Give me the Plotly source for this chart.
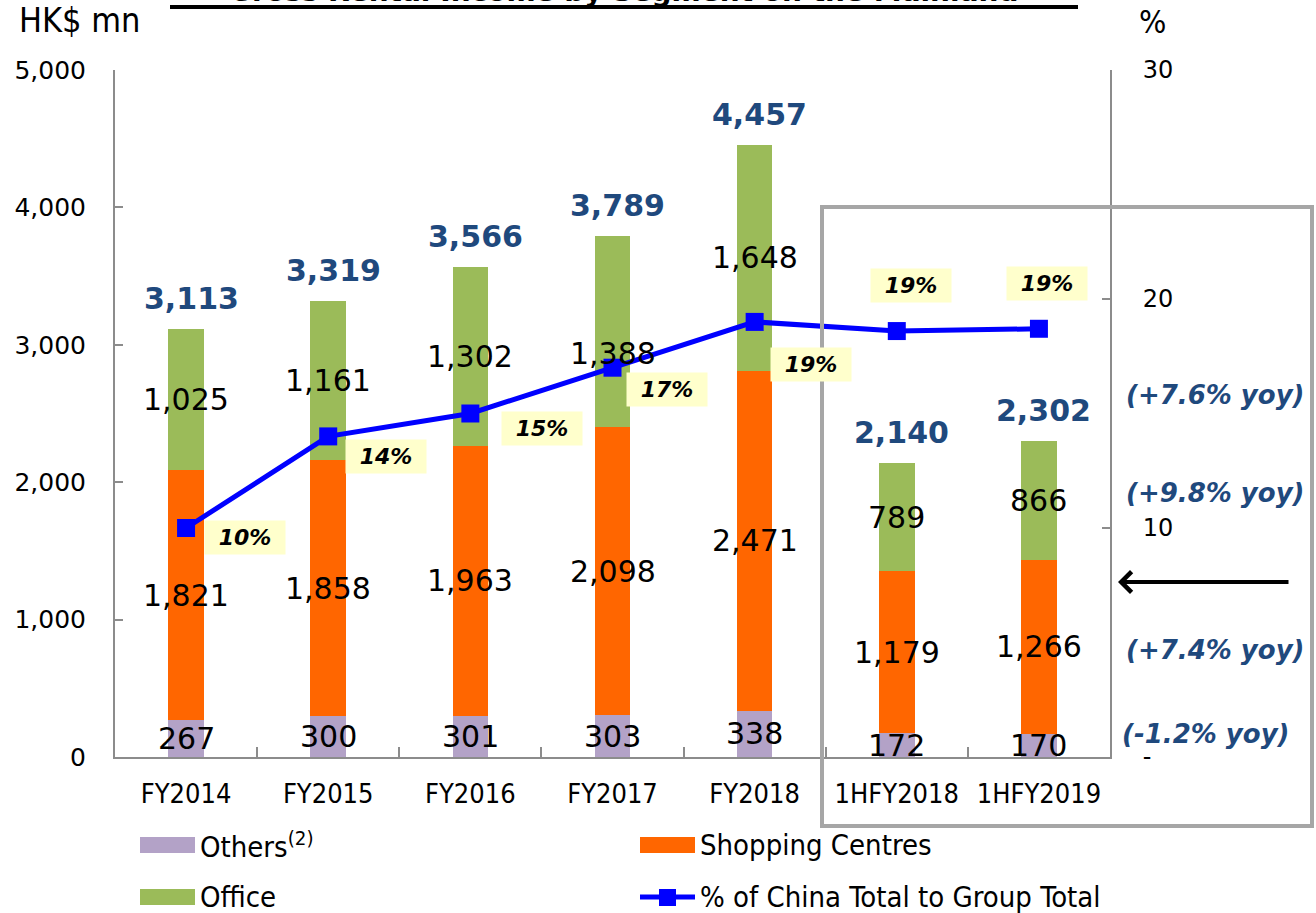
import plotly.graph_objects as go

# ---------------- data ----------------
categories = ["FY2014", "FY2015", "FY2016", "FY2017", "FY2018", "1HFY2018", "1HFY2019"]
others = [267, 300, 301, 303, 338, 172, 170]
shopping = [1821, 1858, 1963, 2098, 2471, 1179, 1266]
office = [1025, 1161, 1302, 1388, 1648, 789, 866]
totals = [3113, 3319, 3566, 3789, 4457, 2140, 2302]
pct_china = [10, 14, 15, 17, 19, 18.6, 18.7]
pct_labels = ["10%", "14%", "15%", "17%", "19%", "19%", "19%"]
yoy_labels = ["(+7.6% yoy)", "(+9.8% yoy)", "(+7.4% yoy)", "(-1.2% yoy)"]
y_ticks = [0, 1000, 2000, 3000, 4000, 5000]
y2_ticks = [0, 10, 20, 30]
y2_ticktext = ["-", "10", "20", "30"]

# ---------------- styling ----------------
W, H = 1316, 913
L, R, T, B = 115, 1110, 70, 757   # plot area in pixels
C_OTH, C_SHOP, C_OFF = "#B3A2C7", "#FF6600", "#9BBB59"
C_LINE = "#0000FF"
C_NAVY = "#1F497D"
GRAY = "#8C8C8C"
FONT = "DejaVu Sans, Verdana, sans-serif"
FONT_C = "DejaVu Sans Condensed, Liberation Sans Narrow, DejaVu Sans, sans-serif"


def px(x):
    return (x - L) / (R - L)


def py(y):
    return (B - y) / (B - T)


fig = go.Figure()
for name, vals, col in [("Others", others, C_OTH), ("Shopping Centres", shopping, C_SHOP),
                        ("Office", office, C_OFF)]:
    fig.add_trace(go.Bar(x=categories, y=vals, name=name, marker_color=col,
                         marker_line_width=0, width=0.25, yaxis="y"))

fig.add_trace(go.Scatter(x=categories, y=pct_china, yaxis="y2", mode="lines+markers",
                         line=dict(color=C_LINE, width=5),
                         marker=dict(symbol="square", size=18, color=C_LINE),
                         name="% of China Total to Group Total", cliponaxis=False))

ann = []
# segment labels
seg_shift = {("office", 3): -22}
for i, c in enumerate(categories):
    base = 0
    for key, vals in [("others", others), ("shopping", shopping), ("office", office)]:
        mid = base + vals[i] / 2
        ann.append(dict(x=c, y=mid, xref="x", yref="y", text=f"{vals[i]:,}", showarrow=False,
                        font=dict(family=FONT, size=30, color="black"),
                        yshift=seg_shift.get((key, i), 0)))
        base += vals[i]
    # totals
    ann.append(dict(x=c, y=totals[i], xref="x", yref="y", text=f"<b>{totals[i]:,}</b>",
                    showarrow=False, yanchor="bottom", yshift=11, xshift=5,
                    font=dict(family=FONT, size=30, color=C_NAVY)))

# pct labels
pct_off = [(59, 9), (58, 20), (72, 15), (54, 22), (56, 43), (14, -46), (8, -45)]
for i, c in enumerate(categories):
    dx, dy = pct_off[i]
    ann.append(dict(x=c, y=pct_china[i], xref="x", yref="y2", text=f"<b><i>{pct_labels[i]}</i></b>",
                    showarrow=False, xshift=dx, yshift=-dy, bgcolor="#FFFFCC",
                    width=80, height=33, borderpad=0,
                    font=dict(family=FONT, size=22, color="black")))


def pann(text, xx, yy, size, color="black", family=FONT, xanchor="center"):
    return dict(x=px(xx), y=py(yy), xref="paper", yref="paper", text=text, showarrow=False,
                xanchor=xanchor, yanchor="middle", font=dict(family=family, size=size, color=color))


# yoy annotations
yoy_pos = [(1215, 395), (1215, 493), (1215, 650), (1205, 734)]
for t, (xx, yy) in zip(yoy_labels, yoy_pos):
    ann.append(pann(f"<b><i>{t}</i></b>", xx, yy, 26, C_NAVY))

# arrow
ann.append(dict(x=px(1118), y=py(582), xref="paper", yref="paper", text="", showarrow=True,
                ax=172, ay=0, arrowhead=4, arrowsize=1, arrowwidth=4, arrowcolor="black"))

# axis unit titles
ann.append(pann("HK$ mn", 79, 20, 34, family=FONT_C))
ann.append(pann("%", 1152, 22, 32, family=FONT_C))

# title (cut off at top)
ann.append(dict(x=px(624), y=py(10), xref="paper", yref="paper", yanchor="bottom", xanchor="center",
                text="<b>Gross Rental Income by Segment on the Mainland</b>", showarrow=False,
                font=dict(family=FONT, size=28, color="black")))

# legend texts
leg = [("Others<sup>(2)</sup>", 198, 845), ("Shopping Centres", 698, 845),
       ("Office", 198, 897), ("% of China Total to Group Total", 698, 897)]
for t, xx, yy in leg:
    ann.append(pann(t, xx, yy, 29, family=FONT_C, xanchor="left"))

shapes = []
# title underline
shapes.append(dict(type="line", xref="paper", yref="paper", x0=px(170), x1=px(1078),
                   y0=py(7), y1=py(7), line=dict(color="black", width=4)))
# highlight box
shapes.append(dict(type="rect", xref="paper", yref="paper", x0=px(822), x1=px(1312),
                   y0=py(826), y1=py(207), line=dict(color="#A6A6A6", width=4), layer="above"))
# legend swatches
for col, x0, y0 in [(C_OTH, 140, 837), (C_SHOP, 640, 837), (C_OFF, 140, 889)]:
    shapes.append(dict(type="rect", xref="paper", yref="paper", x0=px(x0), x1=px(x0 + 55),
                       y0=py(y0 + 16), y1=py(y0), fillcolor=col, line_width=0))
shapes.append(dict(type="line", xref="paper", yref="paper", x0=px(640), x1=px(695),
                   y0=py(897), y1=py(897), line=dict(color=C_LINE, width=5)))
shapes.append(dict(type="rect", xref="paper", yref="paper", x0=px(659), x1=px(676),
                   y0=py(906), y1=py(889), fillcolor=C_LINE, line_width=0))

fig.update_layout(
    width=W, height=H, margin=dict(l=L, r=W - R, t=T, b=H - B),
    paper_bgcolor="white", plot_bgcolor="white", barmode="stack", showlegend=False,
    annotations=ann, shapes=shapes,
    xaxis=dict(type="category", range=[-0.5, 6.5], showline=True, linecolor=GRAY, linewidth=2,
               ticks="inside", tickson="boundaries", ticklen=10, tickcolor=GRAY, tickwidth=1.5,
               ticklabelstandoff=12, tickfont=dict(family=FONT_C, size=27, color="black"),
               showgrid=False),
    yaxis=dict(range=[0, 5000], tickvals=y_ticks, tickformat=",", showline=True, linecolor=GRAY,
               linewidth=2, ticks="inside", ticklen=8, tickcolor=GRAY, tickwidth=1.5,
               showgrid=False, zeroline=False, ticklabelstandoff=22,
               tickfont=dict(family=FONT, size=25, color="black")),
    yaxis2=dict(range=[0, 30], overlaying="y", side="right", tickvals=y2_ticks,
                ticktext=y2_ticktext, showline=True, linecolor=GRAY, linewidth=2,
                ticks="inside", ticklen=8, tickcolor=GRAY, tickwidth=1.5, showgrid=False,
                zeroline=False, ticklabelstandoff=26,
                tickfont=dict(family=FONT, size=24, color="black")),
)

fig.write_html("out.html")
